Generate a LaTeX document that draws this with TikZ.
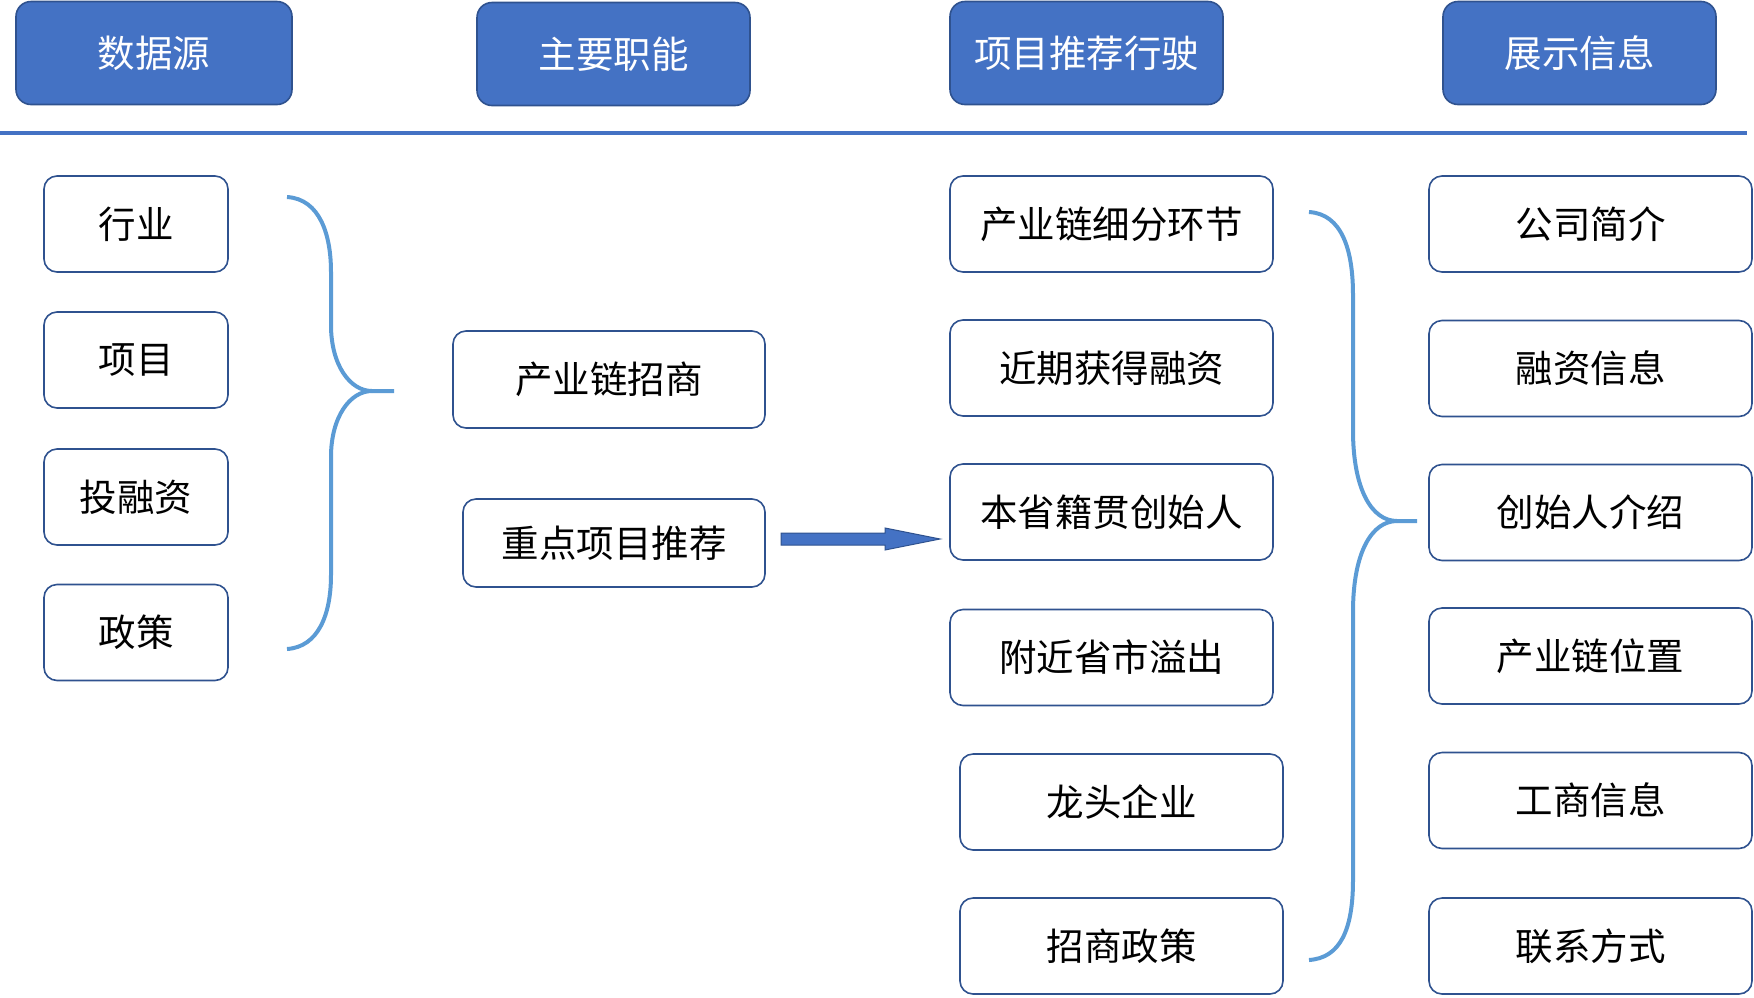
\documentclass[tikz,border=0pt]{standalone}
\usepackage{fontspec}
\newfontfamily\cjk{Noto Sans CJK SC}
\usetikzlibrary{calc}
\definecolor{hdfill}{HTML}{4472C4}
\definecolor{hdline}{HTML}{2F528F}
\definecolor{brace}{HTML}{5B9BD5}
\tikzset{
  hdbox/.style={draw=hdline,fill=hdfill,line width=1.6pt,rounded corners=15pt,text=white,inner sep=0pt,minimum height=103pt,font=\cjk\fontsize{37.5}{42}\selectfont},
  itembox/.style={draw=hdline,fill=white,line width=1.6pt,rounded corners=13pt,text=black,inner sep=0pt,minimum height=96pt,font=\cjk\fontsize{37.5}{42}\selectfont},
  bracestyle/.style={draw=brace,line width=4pt},
  bigarrow/.style={draw=hdline,fill=hdfill,line width=1pt,line join=miter}
}
\begin{document}
\begin{tikzpicture}[x=1pt,y=-1pt]
\useasboundingbox (0,0) rectangle (1754,997);
% headers
\node[hdbox,minimum width=276pt] (hd1) at (154,53) {数据源};
\node[hdbox,minimum width=273pt] (hd2) at (613.5,54) {主要职能};
\node[hdbox,minimum width=273pt] (hd3) at (1086.5,53) {项目推荐行驶};
\node[hdbox,minimum width=273pt] (hd4) at (1579.5,53) {展示信息};
% separator
\coordinate (sepl) at (0,133);
\coordinate (sepr) at (1747,133);
\draw[hdfill,line width=4.5pt] (sepl) -- (sepr);
% left column
\node[itembox,minimum width=184pt] (s1) at (136,224) {行业};
\node[itembox,minimum width=184pt] (s2) at (136,360) {项目};
\node[itembox,minimum width=184pt] (s3) at (136,497) {投融资};
\node[itembox,minimum width=184pt] (s4) at (136,632.5) {政策};
% left brace
\draw[bracestyle] (287,197) .. controls (320,199) and (331,235) .. (331,272)
  -- (331,325) .. controls (331,365) and (350,391) .. (372,391) -- (394,391);
\draw[bracestyle] (372,391) .. controls (350,391) and (331,417) .. (331,457)
  -- (331,575) .. controls (331,615) and (318,647) .. (287,649);
% middle
\node[itembox,minimum width=312pt,minimum height=97pt] (m1) at (609,379.5) {产业链招商};
\node[itembox,minimum width=302pt,minimum height=88pt] (m2) at (614,543) {重点项目推荐};
% arrow
\coordinate (as) at (781,539);
\coordinate (at) at (940,539);
\draw[bigarrow] ($(as)+(0,-6)$) -- ($(at)+(-55,-6)$) -- ($(at)+(-55,-11)$) -- (at)
  -- ($(at)+(-55,11)$) -- ($(at)+(-55,6)$) -- ($(as)+(0,6)$) -- cycle;
% column 3
\node[itembox,minimum width=323pt] (c1) at (1111.5,224) {产业链细分环节};
\node[itembox,minimum width=323pt] (c2) at (1111.5,368) {近期获得融资};
\node[itembox,minimum width=323pt] (c3) at (1111.5,512) {本省籍贯创始人};
\node[itembox,minimum width=323pt] (c4) at (1111.5,657.5) {附近省市溢出};
\node[itembox,minimum width=323pt] (c5) at (1121.5,802) {龙头企业};
\node[itembox,minimum width=323pt] (c6) at (1121.5,946) {招商政策};
% right brace
\draw[bracestyle] (1309,212) .. controls (1342,214) and (1353,250) .. (1353,295)
  -- (1353,430) .. controls (1353,490) and (1372,521) .. (1397,521) -- (1417,521);
\draw[bracestyle] (1397,521) .. controls (1372,521) and (1353,552) .. (1353,612)
  -- (1353,880) .. controls (1353,930) and (1340,958) .. (1309,960);
% right column
\node[itembox,minimum width=323pt] (r1) at (1590.5,224) {公司简介};
\node[itembox,minimum width=323pt] (r2) at (1590.5,368.5) {融资信息};
\node[itembox,minimum width=323pt] (r3) at (1590.5,512.5) {创始人介绍};
\node[itembox,minimum width=323pt] (r4) at (1590.5,656) {产业链位置};
\node[itembox,minimum width=323pt] (r5) at (1590.5,800.5) {工商信息};
\node[itembox,minimum width=323pt] (r6) at (1590.5,946) {联系方式};
\end{tikzpicture}
\end{document}
